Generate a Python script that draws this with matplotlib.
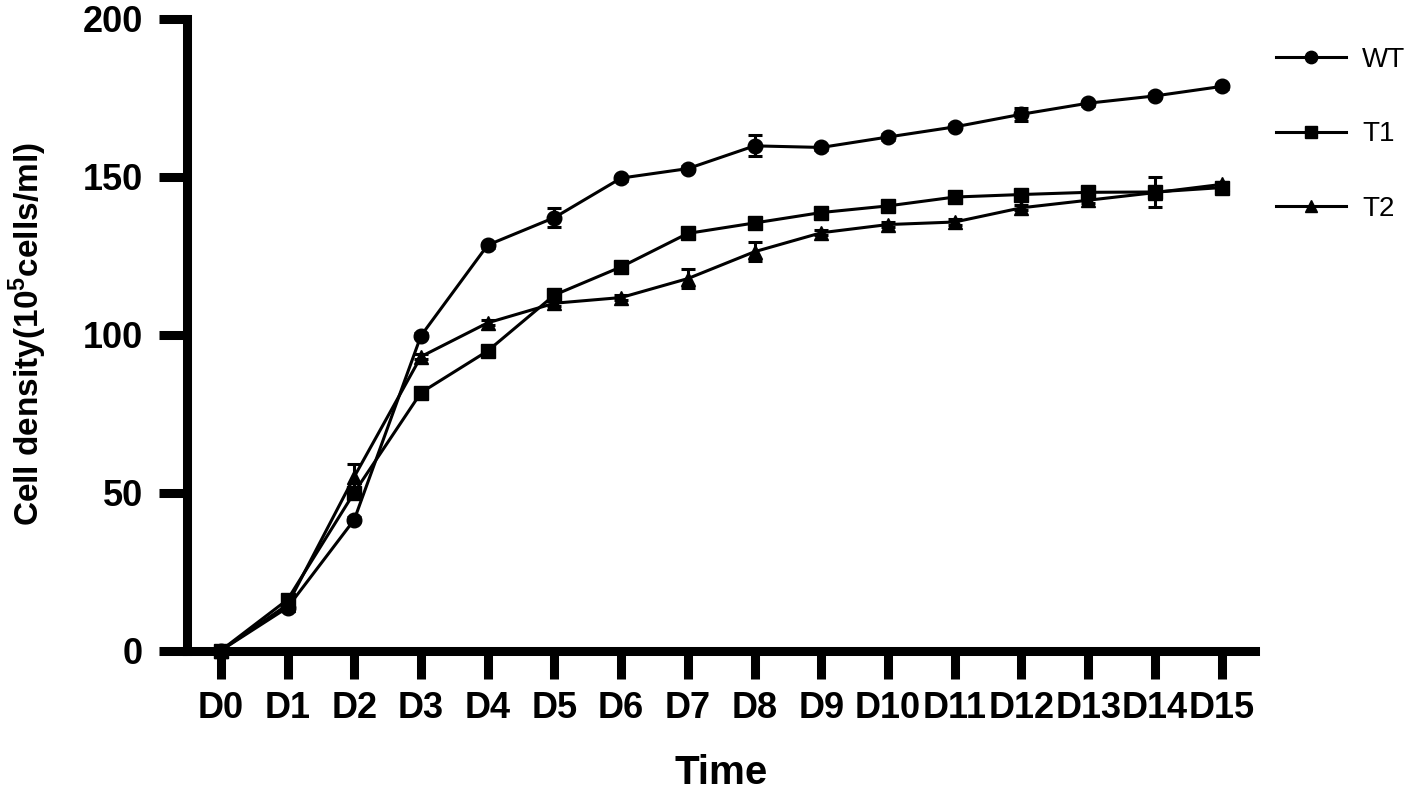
import matplotlib
matplotlib.use("Agg")
import matplotlib.pyplot as plt
import numpy as np

## Data
days = ["D0", "D1", "D2", "D3", "D4", "D5", "D6", "D7",
        "D8", "D9", "D10", "D11", "D12", "D13", "D14", "D15"]

wt = [0, 13.6, 41.4, 99.6, 128.3, 137.0, 149.5, 152.5,
      159.7, 159.2, 162.5, 165.7, 169.7, 173.2, 175.5, 178.5]
wt_err = [0, 0.8, 0.8, 0.8, 0.8, 3.0, 0.8, 0.8,
          3.3, 0.8, 0.8, 0.8, 2.0, 0.8, 0.8, 0.8]

t1 = [0, 16.1, 50.0, 81.6, 94.8, 112.5, 121.4, 132.0,
      135.3, 138.6, 140.7, 143.5, 144.3, 145.0, 145.1, 146.5]
t1_err = [0, 0.8, 0.8, 0.8, 0.8, 1.5, 0.8, 0.8,
          0.8, 0.8, 0.8, 0.8, 0.8, 0.8, 4.6, 0.8]

t2 = [0, 14.5, 55.0, 93.0, 103.7, 109.9, 111.7, 117.7,
      126.2, 132.2, 134.8, 135.6, 140.1, 142.5, 144.9, 147.5]
t2_err = [0, 0.8, 4.0, 0.8, 0.8, 0.8, 0.8, 2.9,
          3.0, 0.8, 0.8, 0.8, 0.8, 0.8, 0.8, 0.8]

series = [("WT", wt, wt_err, "o", 10.5), ("T1", t1, t1_err, "s", 9.5), ("T2", t2, t2_err, "^", 9.5)]

plt.rcParams['font.family'] = ['Liberation Sans', 'DejaVu Sans']
plt.rcParams['mathtext.fontset'] = 'custom'
plt.rcParams['mathtext.bf'] = 'Liberation Sans:bold'
plt.rcParams['mathtext.rm'] = 'Liberation Sans'

fig = plt.figure(figsize=(14.18, 7.91), dpi=100)
ax = fig.add_axes([0.1322, 0.1776, 0.885 - 0.1322, 0.9766 - 0.1776])

x = np.arange(len(days))
handles = []
for name, vals, err, mk, ms in series:
    ax.errorbar(x, vals, yerr=err, fmt='none', ecolor='black',
                elinewidth=2.2, capsize=5, capthick=2.2, clip_on=False, zorder=3)
    h, = ax.plot(x, vals, color='black', lw=2.2, marker=mk, markersize=ms,
                 label=name, clip_on=False, zorder=4)
    handles.append(h)

ax.set_xlim(-0.5, 15.5)
ax.set_ylim(0, 200)
ax.set_xticks(x)
ax.set_xticklabels(days)
ax.set_yticks([0, 50, 100, 150, 200])

for s in ['top', 'right']:
    ax.spines[s].set_visible(False)
for s in ['left', 'bottom']:
    ax.spines[s].set_linewidth(6.5)
    ax.spines[s].set_capstyle('projecting')

ax.tick_params(axis='both', length=20, width=6.5, labelsize=26)
ax.tick_params(axis='x', pad=9)
ax.tick_params(axis='y', pad=12)
for lab in ax.get_xticklabels() + ax.get_yticklabels():
    lab.set_fontweight('bold')

ax.set_xlabel("Time", fontsize=29, fontweight='bold', labelpad=20)
ax.set_ylabel(r"Cell density(10$^\mathbf{5}$cells/ml)", fontsize=24,
              fontweight='bold', labelpad=24)

leg = fig.legend(handles=handles, loc='upper left', bbox_to_anchor=(0.9, 0.941),
                 frameon=False, fontsize=20, numpoints=1, handlelength=2.5,
                 handletextpad=0.6, labelspacing=1.75, borderpad=0, borderaxespad=0,
                 markerscale=0.85)

fig.savefig("out.png", dpi=100)
